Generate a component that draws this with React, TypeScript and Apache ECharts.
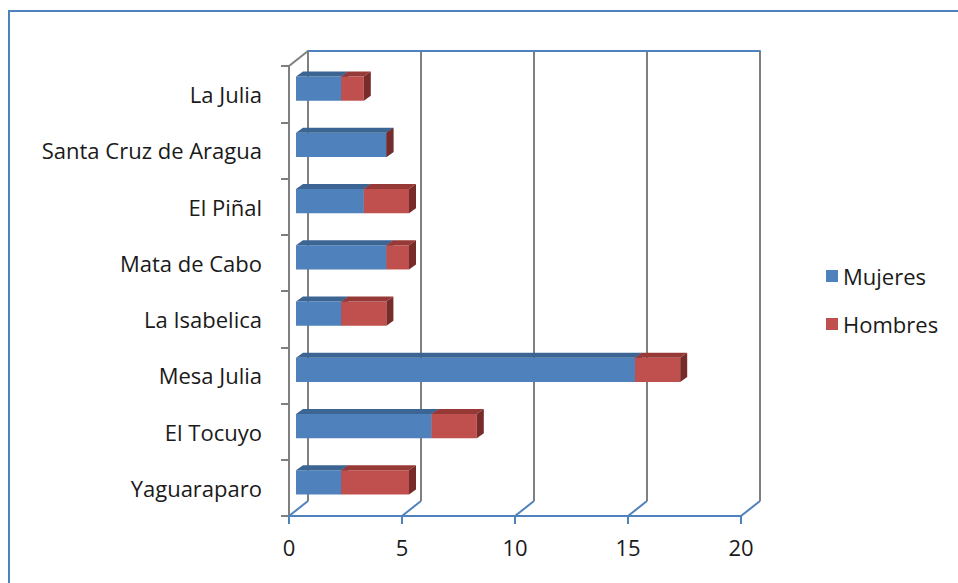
import React, { useEffect, useRef } from "react";
import * as echarts from "echarts";

const categories = [
  "Yaguaraparo",
  "El Tocuyo",
  "Mesa Julia",
  "La Isabelica",
  "Mata de Cabo",
  "El Piñal",
  "Santa Cruz de Aragua",
  "La Julia",
];
const mujeres = [2, 6, 15, 2, 4, 3, 4, 2];
const hombres = [3, 2, 2, 2, 1, 2, 0, 1];
const xTicks = [0, 5, 10, 15, 20];

const FONT = "Open Sans";
const FS = 22;
const TXT = "#1a1a1a";
const BLUE = { front: "#4F81BD", top: "#3D6593", side: "#355A86" };
const RED = { front: "#C0504D", top: "#973A37", side: "#772C2A" };
const DEPTH_X = 19;
const DEPTH_Y = -15;

function barRender(colors: { front: string; top: string; side: string }) {
  return (params: any, api: any) => {
    const s = api.value(0);
    const e = api.value(1);
    const c = api.value(2);
    const p0 = api.coord([s, c]);
    const p1 = api.coord([e, c]);
    const band = api.size([0, 1])[1];
    const h = band * 0.43;
    const ox = 7;
    const oy = -5.5;
    const dx = 7;
    const dy = -5;
    const x0 = p0[0] + ox;
    const x1 = p1[0] + ox;
    const yT = p0[1] + oy - h / 2;
    const yB = yT + h;
    return {
      type: "group",
      children: [
        {
          type: "rect",
          shape: { x: x0, y: yT, width: Math.max(0, x1 - x0), height: h },
          style: { fill: colors.front },
        },
        {
          type: "polygon",
          shape: {
            points: [
              [x0, yT],
              [x1, yT],
              [x1 + dx, yT + dy],
              [x0 + dx, yT + dy],
            ],
          },
          style: { fill: colors.top },
        },
        {
          type: "polygon",
          shape: {
            points: [
              [x1, yT],
              [x1 + dx, yT + dy],
              [x1 + dx, yB + dy],
              [x1, yB],
            ],
          },
          style: { fill: colors.side },
        },
      ],
    };
  };
}

export default function App() {
  const ref = useRef<HTMLDivElement>(null);
  useEffect(() => {
    if (!ref.current) return;
    const chart = echarts.init(ref.current, undefined, { renderer: "svg" });
    const mData = categories.map((_, i) => [0, mujeres[i], i]);
    const hData = categories.map((_, i) => [mujeres[i], mujeres[i] + hombres[i], i]);
    chart.setOption({
      animation: false,
      backgroundColor: "#ffffff",
      textStyle: { fontFamily: FONT },
      graphic: [
        {
          type: "rect",
          shape: { x: 9, y: 11, width: 2000, height: 2000 },
          style: { fill: "none", stroke: "#4F81BD", lineWidth: 2 },
          z: 100,
        },
      ],
      legend: {
        orient: "vertical",
        left: 826,
        top: 265,
        padding: 0,
        itemWidth: 12,
        itemHeight: 12,
        itemGap: 26,
        icon: "rect",
        textStyle: { fontSize: FS, color: TXT, fontFamily: FONT },
        data: ["Mujeres", "Hombres"],
      },
      grid: [
        { left: 289, top: 66, width: 452, height: 450 },
        { left: 289 + DEPTH_X, top: 66 + DEPTH_Y, width: 452, height: 450 },
      ],
      xAxis: [
        {
          gridIndex: 0,
          type: "value",
          min: 0,
          max: 20,
          interval: 5,
          axisLine: { show: true, lineStyle: { color: "#4F81BD", width: 2 } },
          axisTick: { show: true, length: 8, lineStyle: { color: "#4F81BD", width: 2 } },
          axisLabel: { fontSize: FS, color: TXT, margin: 20, fontFamily: FONT },
          splitLine: { show: false },
        },
        {
          gridIndex: 1,
          type: "value",
          min: 0,
          max: 20,
          interval: 5,
          position: "top",
          axisLine: { show: true, lineStyle: { color: "#4F81BD", width: 2 } },
          axisTick: { show: false },
          axisLabel: { show: false },
          splitLine: { show: true, lineStyle: { color: "#7f7f7f", width: 2 } },
        },
      ],
      yAxis: [
        {
          gridIndex: 0,
          type: "category",
          data: categories,
          axisLine: { show: true, lineStyle: { color: "#7f7f7f", width: 2 } },
          axisTick: { show: true, length: 8, lineStyle: { color: "#7f7f7f", width: 2 } },
          axisLabel: { fontSize: FS, color: TXT, margin: 27, fontFamily: FONT },
          splitLine: { show: false },
        },
        {
          gridIndex: 1,
          type: "category",
          data: categories,
          axisLine: { show: false },
          axisTick: { show: false },
          axisLabel: { show: false },
          splitLine: { show: false },
        },
      ],
      series: [
        {
          type: "custom",
          name: "frame",
          xAxisIndex: 0,
          yAxisIndex: 0,
          silent: true,
          encode: { x: 0 },
          data: xTicks.map((v) => [v]),
          z: 1,
          renderItem: (params: any, api: any) => {
            const v = api.value(0);
            const cs = params.coordSys;
            const x = api.coord([v, 0])[0];
            const yb = cs.y + cs.height;
            const children: any[] = [
              {
                type: "line",
                shape: { x1: x, y1: yb, x2: x + DEPTH_X, y2: yb + DEPTH_Y },
                style: { stroke: "#4F81BD", lineWidth: 2 },
              },
            ];
            if (params.dataIndex === 0) {
              children.push({
                type: "line",
                shape: { x1: x, y1: cs.y, x2: x + DEPTH_X, y2: cs.y + DEPTH_Y },
                style: { stroke: "#7f7f7f", lineWidth: 2 },
              });
            }
            return { type: "group", children };
          },
        },
        {
          type: "custom",
          name: "Mujeres",
          xAxisIndex: 0,
          yAxisIndex: 0,
          encode: { x: [0, 1], y: 2 },
          itemStyle: { color: BLUE.front },
          data: mData,
          z: 3,
          renderItem: barRender(BLUE),
        },
        {
          type: "custom",
          name: "Hombres",
          xAxisIndex: 0,
          yAxisIndex: 0,
          encode: { x: [0, 1], y: 2 },
          itemStyle: { color: RED.front },
          data: hData,
          z: 4,
          renderItem: barRender(RED),
        },
      ],
    });
    return () => chart.dispose();
  }, []);
  return (
    <div
      ref={ref}
      style={{ position: "fixed", left: 0, top: 0, width: 958, height: 583 }}
    />
  );
}
